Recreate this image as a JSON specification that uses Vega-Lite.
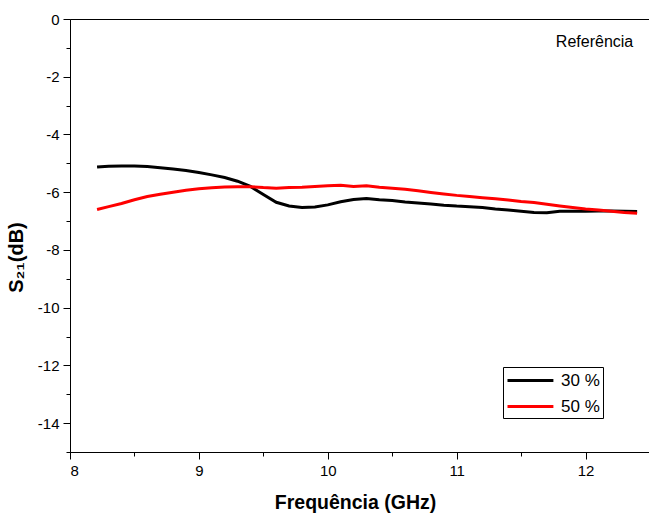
{
  "$schema": "https://vega.github.io/schema/vega-lite/v6.json",
  "width": 580,
  "height": 433,
  "autosize": "none",
  "padding": {"left": 70, "top": 19, "right": 0, "bottom": 66},
  "background": "white",
  "config": {
    "font": "Liberation Sans",
    "view": {"stroke": "black", "strokeWidth": 1},
    "axis": {"grid": false, "domainColor": "black", "tickColor": "black", "labelColor": "black", "titleColor": "black", "labelFont": "Liberation Sans", "titleFont": "Liberation Sans"}
  },
  "datasets": {
    "curves": [
      {"f": 8.21, "s": -5.13, "series": "30 %"},
      {"f": 8.3, "s": -5.1, "series": "30 %"},
      {"f": 8.4, "s": -5.09, "series": "30 %"},
      {"f": 8.5, "s": -5.09, "series": "30 %"},
      {"f": 8.6, "s": -5.11, "series": "30 %"},
      {"f": 8.7, "s": -5.15, "series": "30 %"},
      {"f": 8.8, "s": -5.2, "series": "30 %"},
      {"f": 8.9, "s": -5.25, "series": "30 %"},
      {"f": 9.0, "s": -5.32, "series": "30 %"},
      {"f": 9.1, "s": -5.4, "series": "30 %"},
      {"f": 9.2, "s": -5.49, "series": "30 %"},
      {"f": 9.3, "s": -5.62, "series": "30 %"},
      {"f": 9.4, "s": -5.8, "series": "30 %"},
      {"f": 9.5, "s": -6.08, "series": "30 %"},
      {"f": 9.6, "s": -6.35, "series": "30 %"},
      {"f": 9.7, "s": -6.48, "series": "30 %"},
      {"f": 9.8, "s": -6.53, "series": "30 %"},
      {"f": 9.9, "s": -6.51, "series": "30 %"},
      {"f": 10.0, "s": -6.44, "series": "30 %"},
      {"f": 10.1, "s": -6.33, "series": "30 %"},
      {"f": 10.2, "s": -6.25, "series": "30 %"},
      {"f": 10.3, "s": -6.22, "series": "30 %"},
      {"f": 10.4, "s": -6.26, "series": "30 %"},
      {"f": 10.5, "s": -6.29, "series": "30 %"},
      {"f": 10.6, "s": -6.34, "series": "30 %"},
      {"f": 10.7, "s": -6.37, "series": "30 %"},
      {"f": 10.8, "s": -6.41, "series": "30 %"},
      {"f": 10.9, "s": -6.45, "series": "30 %"},
      {"f": 11.0, "s": -6.48, "series": "30 %"},
      {"f": 11.1, "s": -6.5, "series": "30 %"},
      {"f": 11.2, "s": -6.53, "series": "30 %"},
      {"f": 11.3, "s": -6.58, "series": "30 %"},
      {"f": 11.4, "s": -6.62, "series": "30 %"},
      {"f": 11.5, "s": -6.66, "series": "30 %"},
      {"f": 11.6, "s": -6.7, "series": "30 %"},
      {"f": 11.7, "s": -6.71, "series": "30 %"},
      {"f": 11.8, "s": -6.66, "series": "30 %"},
      {"f": 11.9, "s": -6.66, "series": "30 %"},
      {"f": 12.0, "s": -6.66, "series": "30 %"},
      {"f": 12.1, "s": -6.65, "series": "30 %"},
      {"f": 12.2, "s": -6.65, "series": "30 %"},
      {"f": 12.3, "s": -6.66, "series": "30 %"},
      {"f": 12.4, "s": -6.67, "series": "30 %"},
      {"f": 8.21, "s": -6.6, "series": "50 %"},
      {"f": 8.3, "s": -6.5, "series": "50 %"},
      {"f": 8.4, "s": -6.39, "series": "50 %"},
      {"f": 8.5, "s": -6.26, "series": "50 %"},
      {"f": 8.6, "s": -6.15, "series": "50 %"},
      {"f": 8.7, "s": -6.07, "series": "50 %"},
      {"f": 8.8, "s": -6.0, "series": "50 %"},
      {"f": 8.9, "s": -5.93, "series": "50 %"},
      {"f": 9.0, "s": -5.88, "series": "50 %"},
      {"f": 9.1, "s": -5.85, "series": "50 %"},
      {"f": 9.2, "s": -5.82, "series": "50 %"},
      {"f": 9.3, "s": -5.81, "series": "50 %"},
      {"f": 9.4, "s": -5.81, "series": "50 %"},
      {"f": 9.5, "s": -5.84, "series": "50 %"},
      {"f": 9.6, "s": -5.86, "series": "50 %"},
      {"f": 9.7, "s": -5.84, "series": "50 %"},
      {"f": 9.8, "s": -5.83, "series": "50 %"},
      {"f": 9.9, "s": -5.8, "series": "50 %"},
      {"f": 10.0, "s": -5.78, "series": "50 %"},
      {"f": 10.1, "s": -5.76, "series": "50 %"},
      {"f": 10.2, "s": -5.8, "series": "50 %"},
      {"f": 10.3, "s": -5.78, "series": "50 %"},
      {"f": 10.4, "s": -5.83, "series": "50 %"},
      {"f": 10.5, "s": -5.86, "series": "50 %"},
      {"f": 10.6, "s": -5.9, "series": "50 %"},
      {"f": 10.7, "s": -5.95, "series": "50 %"},
      {"f": 10.8, "s": -6.01, "series": "50 %"},
      {"f": 10.9, "s": -6.06, "series": "50 %"},
      {"f": 11.0, "s": -6.11, "series": "50 %"},
      {"f": 11.1, "s": -6.15, "series": "50 %"},
      {"f": 11.2, "s": -6.19, "series": "50 %"},
      {"f": 11.3, "s": -6.23, "series": "50 %"},
      {"f": 11.4, "s": -6.27, "series": "50 %"},
      {"f": 11.5, "s": -6.32, "series": "50 %"},
      {"f": 11.6, "s": -6.36, "series": "50 %"},
      {"f": 11.7, "s": -6.42, "series": "50 %"},
      {"f": 11.8, "s": -6.48, "series": "50 %"},
      {"f": 11.9, "s": -6.53, "series": "50 %"},
      {"f": 12.0, "s": -6.58, "series": "50 %"},
      {"f": 12.1, "s": -6.62, "series": "50 %"},
      {"f": 12.2, "s": -6.66, "series": "50 %"},
      {"f": 12.3, "s": -6.7, "series": "50 %"},
      {"f": 12.4, "s": -6.73, "series": "50 %"}
    ],
    "note": [{"f": 12.37, "s": -0.8, "label": "Referência"}]
  },
  "layer": [
    {
      "data": {"name": "curves"},
      "mark": {"type": "line", "strokeWidth": 3, "opacity": 0},
      "encoding": {
        "x": {"field": "f", "type": "quantitative", "scale": {"domain": [8, 12.5], "nice": false, "zero": false},
          "axis": {"orient": "bottom", "values": [8.5, 9.5, 10.5, 11.5, 12.5], "labels": false, "tickSize": 4, "domain": false, "title": null}},
        "y": {"field": "s", "type": "quantitative", "scale": {"domain": [-15, 0], "nice": false, "zero": false},
          "axis": {"orient": "left", "values": [-15, -13, -11, -9, -7, -5, -3, -1], "labels": false, "tickSize": 4, "domain": false, "title": null}},
        "detail": {"field": "series"}
      }
    },
    {
      "data": {"name": "curves"},
      "mark": {"type": "line", "strokeWidth": 3},
      "encoding": {
        "x": {"field": "f", "type": "quantitative",
          "axis": {"orient": "bottom", "values": [8, 9, 10, 11, 12], "tickSize": 7, "labelFontSize": 15, "labelPadding": 4, "title": "Frequência (GHz)", "titleFontSize": 19.5, "titleFontWeight": "bold", "titlePadding": 15, "titleX": 285}},
        "y": {"field": "s", "type": "quantitative",
          "axis": {"orient": "left", "values": [-14, -12, -10, -8, -6, -4, -2, 0], "tickSize": 7, "labelFontSize": 15, "labelPadding": 4, "labelExpr": "replace(datum.label, '−', '-')", "title": "S₂₁(dB)", "titleFontSize": 20, "titleFontWeight": "bold", "titlePadding": 11, "titleY": 238}},
        "color": {"field": "series", "type": "nominal",
          "scale": {"domain": ["30 %", "50 %"], "range": ["black", "red"]},
          "legend": {"title": null, "orient": "none", "legendX": 433, "legendY": 348, "direction": "vertical",
            "strokeColor": "black", "fillColor": "white", "padding": 3,
            "symbolType": "M-1,0H4.1", "symbolStrokeWidth": 3, "symbolSize": 324, "symbolOpacity": 1,
            "labelFontSize": 17, "labelColor": "black", "labelFont": "Liberation Sans", "rowPadding": 7, "labelOffset": 34}}
      }
    },
    {
      "data": {"name": "note"},
      "mark": {"type": "text", "align": "right", "baseline": "middle", "fontSize": 16, "font": "Liberation Sans", "color": "black"},
      "encoding": {
        "x": {"field": "f", "type": "quantitative", "axis": null},
        "y": {"field": "s", "type": "quantitative", "axis": null},
        "text": {"field": "label"}
      }
    }
  ],
  "resolve": {"axis": {"x": "independent", "y": "independent"}}
}
